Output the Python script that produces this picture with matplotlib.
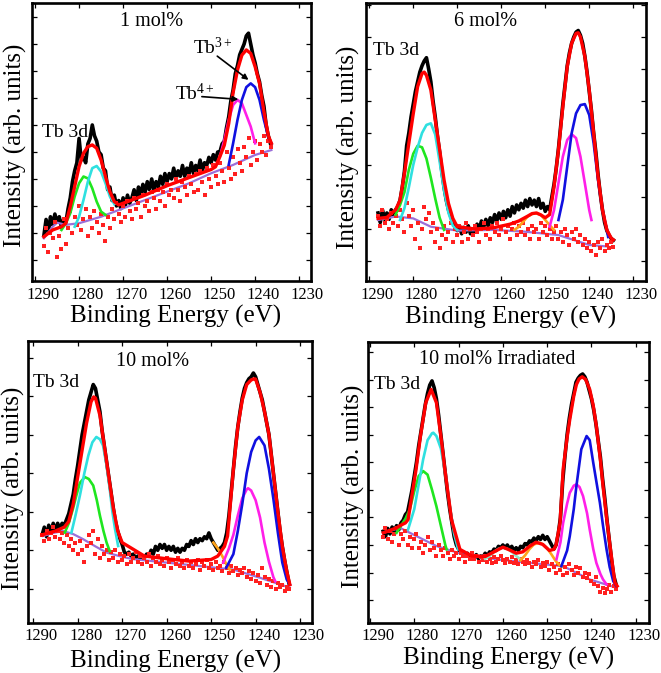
"""Tb 3d XPS spectra, four doping levels, fitted components (2x2 panels)."""
import numpy as np
import matplotlib
matplotlib.use('Agg')
import matplotlib.pyplot as plt
from matplotlib.transforms import ScaledTranslation

plt.rcParams['font.family'] = 'serif'
plt.rcParams['font.serif'] = ['Liberation Serif', 'DejaVu Serif']
plt.rcParams['mathtext.fontset'] = 'custom'
plt.rcParams['mathtext.rm'] = 'Liberation Serif'
plt.rcParams['mathtext.it'] = 'Liberation Serif:italic'

STEP = 0.5          # eV spacing of the raw spectrum / residual readings
XTICKS = [1290, 1280, 1270, 1260, 1250, 1240, 1230]

# ---------------- panel 1 : 1 mol% ----------------
P1_START = 1288.0
P1_RAW = [1.9, 2.5, 2.0, 2.6, 2.3, 2.7, 2.4, 2.6, 2.2, 2.5,
          2.4, 2.9, 3.3, 3.9, 4.3, 4.6, 5.5, 4.7, 4.8, 4.6,
          5.3, 5.5, 6.0, 5.6, 5.4, 5.0, 4.9, 4.4, 4.3, 3.6,
          3.7, 3.2, 3.4, 3.0, 3.2, 2.9, 3.3, 3.0, 3.4, 3.1,
          3.3, 3.6, 3.2, 3.7, 3.4, 3.8, 3.5, 3.9, 3.6, 4.0,
          3.6, 3.9, 3.7, 4.1, 3.8, 4.2, 3.9, 4.2, 4.0, 4.4,
          4.0, 4.3, 4.1, 4.5, 4.1, 4.4, 4.2, 4.6, 4.2, 4.5,
          4.3, 4.7, 4.3, 4.6, 4.5, 4.8, 4.6, 4.9, 4.7, 5.0,
          5.0, 5.3, 5.4, 5.9, 6.3, 6.9, 7.3, 7.9, 8.2, 8.6,
          8.8, 9.0, 9.3, 9.4, 9.0, 8.6, 8.3, 7.9, 7.6, 7.1,
          6.7, 6.0, 5.6, 5.3]
P1_RES = [1.5, 2.2, 1.3, 2.0, 1.8, 2.4, 1.1, 1.9, 1.4, 2.5,
          1.6, 2.2, 2.8, 2.0, 2.6, 2.3, 3.0, 2.1, 2.5, 2.9,
          1.9, 2.6, 2.2, 2.8, 2.4, 2.0, 2.7, 2.3, 1.7, 2.6,
          2.2, 2.9, 2.5, 3.1, 2.7, 2.4, 3.0, 2.6, 3.2, 2.8,
          2.5, 3.3, 2.9, 3.1, 2.6, 3.4, 3.0, 3.2, 2.8, 3.5,
          3.3, 2.9, 3.6, 3.2, 3.5, 3.0, 3.8, 3.4, 3.6, 3.3,
          4.0, 3.6, 3.2, 3.9, 3.7, 3.4, 4.1, 3.8, 3.5, 4.2,
          3.6, 4.3, 3.9, 3.4, 4.4, 4.0, 3.7, 4.5, 4.1, 3.8,
          4.6, 4.3, 3.9, 5.0, 4.4, 4.0, 4.8, 4.2, 5.1, 4.6,
          4.3, 5.2, 4.8, 5.5, 4.5, 5.0, 5.4, 4.7, 5.3, 5.0,
          5.6, 4.9, 5.4, 5.2]
P1_ENV_E = [1288, 1286, 1284, 1283, 1282, 1281, 1280, 1279, 1278, 1277, 1276, 1275,
            1274, 1273, 1272, 1271, 1265, 1260, 1255, 1250, 1249, 1248, 1247, 1246,
            1245, 1244, 1243, 1242, 1241, 1240, 1239, 1238, 1237, 1236.3]
P1_ENV = [1.86, 2.11, 2.23, 2.36, 2.98, 3.72, 4.46, 4.95, 5.20, 5.26, 5.14, 4.70,
          4.09, 3.53, 3.16, 3.04, 3.40, 3.75, 4.05, 4.35, 4.45, 4.83, 5.25, 6.05,
          7.20, 8.04, 8.59, 8.78, 8.65, 8.16, 7.54, 6.50, 5.60, 5.32]
P1_BG_E = [1288, 1286, 1285, 1283, 1280, 1275, 1270, 1265, 1260, 1255, 1250, 1245, 1240, 1236.3]
P1_BG = [1.80, 2.23, 2.38, 2.30, 2.36, 2.60, 2.91, 3.22, 3.53, 3.84, 4.21, 4.52, 4.89, 5.07]
P1_GREEN_E = [1284, 1283, 1282, 1281, 1280, 1279, 1278, 1277, 1276, 1275, 1274]
P1_GREEN = [2.11, 2.36, 2.73, 3.35, 3.84, 4.09, 4.02, 3.65, 3.16, 2.79, 2.67]
P1_CYAN_E = [1281, 1280, 1279, 1278, 1277, 1276, 1275, 1274, 1273, 1272]
P1_CYAN = [2.23, 2.60, 3.22, 3.90, 4.40, 4.48, 4.27, 3.84, 3.35, 3.07]
P1_MAG_E = [1248, 1247, 1246, 1245, 1244, 1243, 1242, 1241, 1240]
P1_MAG = [4.83, 5.44, 6.19, 6.74, 6.93, 6.80, 6.37, 5.94, 5.32]
P1_BLUE_E = [1246, 1245, 1244, 1243, 1242, 1241, 1240, 1239, 1238, 1237, 1236.3]
P1_BLUE = [4.52, 5.32, 6.19, 6.93, 7.40, 7.54, 7.40, 6.93, 6.19, 5.57, 5.32]

# ---------------- panel 2 : 6 mol% ----------------
P2_START = 1288.0
P2_RAW = [2.5, 2.2, 2.6, 2.3, 2.5, 2.3, 2.6, 2.4, 2.6, 2.7,
          2.9, 3.3, 3.8, 4.6, 5.0, 5.5, 5.9, 6.3, 6.6, 6.9,
          7.1, 7.25, 7.35, 7.0, 6.6, 6.0, 5.5, 4.9, 4.4, 3.8,
          3.3, 2.9, 2.6, 2.4, 2.2, 2.1, 1.95, 2.1, 1.85, 2.05,
          1.9, 2.1, 1.85, 2.0, 1.9, 2.15, 2.0, 2.25, 2.05, 2.3,
          2.1, 2.35, 2.2, 2.45, 2.25, 2.5, 2.3, 2.55, 2.35, 2.6,
          2.4, 2.7, 2.5, 2.75, 2.6, 2.8, 2.65, 2.9, 2.7, 2.95,
          2.75, 2.9, 2.7, 2.95, 2.65, 2.8, 2.55, 2.7, 2.6, 3.0,
          3.4, 3.9, 4.5, 5.2, 5.9, 6.5, 7.1, 7.5, 7.8, 8.0,
          8.15, 8.2, 8.05, 7.8, 7.4, 6.9, 6.3, 5.7, 5.0, 4.4,
          3.7, 3.1, 2.6, 2.2, 1.95, 1.8, 1.7, 1.65]
P2_RES = [2.4, 2.1, 2.6, 2.2, 2.3, 2.0, 2.5, 2.2, 2.4, 2.1,
          2.6, 2.3, 1.9, 2.8, 2.4, 2.1, 2.6, 1.7, 2.2, 1.4,
          2.0, 2.7, 2.3, 2.5, 1.9, 2.2, 1.6, 2.0, 1.4, 1.8,
          2.1, 1.7, 1.9, 2.2, 1.6, 2.0, 1.8, 2.1, 1.6, 1.9,
          2.2, 1.7, 2.0, 1.8, 2.1, 1.9, 1.6, 2.0, 2.2, 1.8,
          2.0, 1.7, 2.1, 1.9, 2.2, 1.8, 2.0, 2.3, 1.9, 2.1,
          1.7, 2.0, 2.2, 1.8, 2.1, 1.9, 2.2, 1.8, 2.0, 1.7,
          2.1, 1.9, 2.0, 1.7, 2.2, 1.9, 2.1, 1.8, 2.0, 1.7,
          1.9, 2.1, 1.7, 1.9, 1.6, 2.0, 1.8, 1.5, 1.9, 1.7,
          2.0, 1.6, 1.8, 1.5, 1.7, 1.4, 1.6, 1.3, 1.5, 1.2,
          1.6, 1.4, 1.7, 1.3, 1.5, 1.4, 1.6, 1.45]
P2_ENV_E = [1288, 1286, 1284, 1283, 1282, 1281, 1280, 1279, 1278, 1277.5, 1277, 1276,
            1275, 1274, 1273, 1272, 1271, 1270, 1266, 1262, 1258, 1256, 1254, 1253,
            1252, 1251, 1250, 1249, 1248, 1247, 1246, 1245, 1244, 1243, 1242.5, 1242,
            1241, 1240, 1239, 1238, 1237, 1236, 1235, 1234.5]
P2_ENV = [2.33, 2.36, 2.60, 2.90, 3.74, 4.68, 5.60, 6.45, 6.86, 6.90, 6.80, 6.34,
          5.41, 4.47, 3.53, 2.80, 2.33, 2.07, 2.00, 2.03, 2.15, 2.25, 2.40, 2.48,
          2.50, 2.44, 2.35, 2.45, 3.32, 4.47, 5.82, 7.07, 7.80, 8.11, 8.13, 8.00,
          7.39, 6.34, 4.99, 3.64, 2.60, 1.97, 1.71, 1.66]
P2_BG_E = [1288, 1284, 1280, 1276, 1270, 1262, 1255, 1247, 1240, 1235.7]
P2_BG = [2.28, 2.39, 2.33, 2.07, 1.95, 1.97, 1.92, 1.81, 1.50, 1.45]
P2_GREEN_E = [1284, 1283, 1282, 1281, 1280, 1279, 1278, 1277, 1276, 1275, 1274, 1273]
P2_GREEN = [2.45, 2.75, 3.15, 3.85, 4.35, 4.60, 4.55, 4.20, 3.60, 2.95, 2.35, 1.97]
P2_CYAN_E = [1283, 1282, 1281, 1280, 1279, 1278, 1277, 1276, 1275, 1274, 1273, 1272, 1271, 1270]
P2_CYAN = [2.28, 2.65, 3.30, 4.00, 4.55, 5.00, 5.25, 5.30, 4.95, 4.10, 3.20, 2.50, 2.10, 1.97]
P2_ORANGE_E = [1257, 1256, 1255, 1254, 1253, 1252, 1251, 1250, 1249, 1248]
P2_ORANGE = [1.97, 2.07, 2.23, 2.39, 2.47, 2.49, 2.44, 2.28, 2.12, 1.97]
P2_MAG_E = [1249, 1248, 1247, 1246, 1245, 1244, 1243, 1242, 1241, 1240, 1239.5]
P2_MAG = [2.07, 2.59, 3.43, 4.26, 4.78, 4.96, 4.84, 4.26, 3.43, 2.59, 2.28]
P2_BLUE_E = [1247, 1246, 1245, 1244, 1243, 1242, 1241, 1240, 1239, 1238, 1237, 1236, 1235.7]
P2_BLUE = [2.28, 2.91, 3.95, 4.99, 5.61, 5.87, 5.90, 5.56, 4.68, 3.53, 2.59, 1.97, 1.75]

# ---------------- panel 3 : 10 mol% ----------------
P3_START = 1288.0
P3_RAW = [2.4, 2.6, 2.35, 2.65, 2.45, 2.7, 2.5, 2.7, 2.55, 2.7,
          2.65, 2.8, 2.95, 3.2, 3.45, 3.85, 4.2, 4.6, 5.0, 5.3,
          5.6, 5.9, 6.1, 6.3, 6.2, 5.9, 5.6, 5.1, 4.7, 4.3,
          3.9, 3.5, 3.1, 2.75, 2.5, 2.3, 2.15, 1.95, 1.9, 1.95,
          1.85, 1.9, 1.8, 1.85, 1.8, 1.85, 1.8, 1.9, 1.85, 2.0,
          1.9, 2.1, 2.0, 2.15, 2.05, 2.15, 2.0, 2.1, 2.0, 2.1,
          1.95, 2.05, 1.95, 2.05, 2.0, 2.15, 2.1, 2.25, 2.15, 2.3,
          2.2, 2.3, 2.25, 2.35, 2.3, 2.45, 2.3, 2.2, 2.1, 2.0,
          2.05, 2.1, 2.2, 2.45, 2.9, 3.5, 4.1, 4.7, 5.2, 5.6,
          5.95, 6.2, 6.35, 6.45, 6.5, 6.6, 6.5, 6.3, 6.1, 5.9,
          5.6, 5.3, 5.0, 4.5, 4.0, 3.5, 3.0, 2.5, 2.1, 1.75,
          1.45, 1.15]
P3_RES = [2.4, 2.25, 2.5, 2.3, 2.45, 2.6, 2.35, 2.5, 2.3, 2.45,
          2.2, 2.4, 2.1, 2.3, 2.0, 2.2, 1.9, 2.25, 2.0, 1.7,
          2.1, 2.4, 2.2, 2.5, 1.9, 2.3, 1.8, 2.1, 1.9, 2.0,
          1.75, 1.95, 1.8, 2.0, 1.7, 1.9, 1.75, 1.85, 1.65, 1.9,
          1.7, 1.8, 1.95, 1.7, 1.85, 1.65, 1.8, 1.7, 1.9, 1.6,
          1.8, 1.7, 1.85, 1.65, 1.75, 1.6, 1.8, 1.7, 1.55, 1.75,
          1.65, 1.8, 1.6, 1.7, 1.55, 1.75, 1.6, 1.7, 1.55, 1.65,
          1.75, 1.5, 1.7, 1.6, 1.75, 1.55, 1.65, 1.5, 1.7, 1.55,
          1.6, 1.45, 1.7, 1.55, 1.4, 1.6, 1.45, 1.55, 1.35, 1.5,
          1.4, 1.55, 1.3, 1.45, 1.25, 1.4, 1.2, 1.35, 1.15, 1.55,
          1.3, 1.1, 1.25, 1.05, 1.2, 1.0, 1.15, 1.05, 1.1, 0.95,
          1.05, 1.0]
P3_ENV_E = [1288, 1285, 1283, 1282, 1281, 1280, 1279, 1278, 1277, 1276.4, 1276, 1275,
            1274, 1273, 1272, 1271, 1270, 1265, 1260, 1255, 1250, 1248.5, 1247, 1246.3,
            1245, 1244, 1243, 1242, 1241, 1240.3, 1240, 1239, 1238, 1237, 1236, 1235,
            1234, 1233, 1232.3]
P3_ENV = [2.40, 2.50, 2.60, 2.75, 3.20, 3.90, 4.60, 5.30, 5.85, 5.98, 5.95, 5.50,
          4.70, 3.90, 3.10, 2.50, 2.20, 1.85, 1.78, 1.72, 1.76, 1.85, 2.10, 2.37,
          4.10, 5.20, 5.90, 6.30, 6.42, 6.45, 6.44, 6.10, 5.60, 5.00, 4.00, 3.00,
          2.10, 1.45, 1.11]
P3_BG_E = [1287.8, 1285.5, 1283.3, 1281, 1278.8, 1276, 1273.5, 1270, 1267.5, 1260,
           1252.5, 1245, 1239.1, 1232.3]
P3_BG = [2.37, 2.45, 2.50, 2.42, 2.29, 2.10, 1.94, 1.83, 1.77, 1.68, 1.59, 1.50, 1.29, 1.03]
P3_GREEN_E = [1282.9, 1282, 1281, 1280.3, 1279.5, 1278.4, 1277.5, 1276.5, 1275.7, 1275,
              1274.2, 1273.5, 1272.8]
P3_GREEN = [2.46, 2.70, 3.10, 3.42, 3.75, 3.90, 3.85, 3.68, 3.30, 2.90, 2.50, 2.20, 1.98]
P3_CYAN_E = [1281.4, 1280.5, 1279.5, 1278.5, 1277.6, 1276.7, 1275.8, 1275, 1274.3, 1273.5,
             1272.8, 1272.2, 1271.6, 1270.9]
P3_CYAN = [2.46, 2.90, 3.42, 4.00, 4.46, 4.80, 4.94, 4.88, 4.72, 4.20, 3.60, 3.00, 2.55, 2.11]
P3_ORANGE_E = [1249.5, 1248.5, 1247.5, 1246.5, 1245.8]
P3_ORANGE = [2.20, 2.05, 1.85, 1.62, 1.50]
P3_MAG_E = [1247.3, 1246, 1245, 1244, 1243, 1242, 1241.7, 1241, 1240, 1239, 1238, 1237,
            1236, 1235.6]
P3_MAG = [1.68, 2.05, 2.40, 2.90, 3.35, 3.58, 3.61, 3.55, 3.30, 2.85, 2.20, 1.70, 1.30, 1.20]
P3_BLUE_E = [1246.6, 1245, 1244, 1243, 1242, 1241, 1240, 1239.2, 1238, 1237, 1236, 1235,
             1234, 1233, 1232.3]
P3_BLUE = [1.55, 1.90, 2.50, 3.20, 4.00, 4.55, 4.85, 4.94, 4.72, 4.11, 3.33, 2.46, 1.68,
           1.24, 1.11]

# ---------------- panel 4 : 10 mol% irradiated ----------------
P4_START = 1287.0
P4_RAW = [3.5, 3.3, 3.6, 3.4, 3.65, 3.5, 3.7, 3.55, 3.8, 3.9,
          4.1, 4.2, 4.6, 5.0, 5.5, 6.0, 6.6, 7.1, 7.6, 8.1,
          8.5, 8.8, 8.95, 8.7, 8.3, 7.7, 7.0, 6.3, 5.6, 4.9,
          4.3, 3.8, 3.3, 3.0, 2.85, 2.7, 2.75, 2.6, 2.7, 2.55,
          2.65, 2.55, 2.65, 2.5, 2.6, 2.55, 2.7, 2.6, 2.75, 2.7,
          2.85, 2.8, 2.95, 2.9, 3.0, 2.9, 3.0, 2.85, 2.95, 2.8,
          2.9, 2.8, 2.95, 2.9, 3.05, 3.0, 3.15, 3.1, 3.25, 3.15,
          3.3, 3.2, 3.35, 3.2, 3.3, 3.15, 3.0, 2.85, 3.0, 3.4,
          4.0, 5.3, 6.2, 7.0, 7.6, 8.1, 8.5, 8.9, 9.05, 9.15,
          9.2, 9.1, 8.9, 8.6, 8.3, 7.9, 7.4, 6.8, 6.2, 5.4,
          4.7, 3.9, 3.2, 2.5, 1.9, 1.6]
P4_RES = [3.3, 3.6, 3.2, 3.5, 3.1, 3.4, 3.6, 3.0, 3.4, 3.2,
          3.5, 3.0, 3.3, 2.9, 3.2, 3.4, 2.9, 3.1, 2.7, 3.0,
          3.3, 2.8, 3.1, 2.9, 2.6, 3.0, 2.8, 2.6, 2.9, 2.7,
          2.5, 2.8, 2.6, 2.7, 2.5, 2.7, 2.6, 2.4, 2.6, 2.5,
          2.7, 2.5, 2.6, 2.4, 2.55, 2.45, 2.6, 2.4, 2.5, 2.35,
          2.55, 2.4, 2.5, 2.6, 2.45, 2.35, 2.5, 2.4, 2.55, 2.35,
          2.45, 2.3, 2.5, 2.4, 2.3, 2.45, 2.35, 2.2, 2.4, 2.3,
          2.45, 2.2, 2.35, 2.25, 2.4, 2.1, 2.3, 2.2, 2.0, 2.3,
          2.1, 1.9, 2.2, 2.0, 2.3, 2.1, 1.9, 2.2, 2.0, 2.15,
          1.85, 2.0, 1.8, 1.95, 1.7, 1.6, 1.85, 1.5, 1.3, 1.45,
          1.25, 1.4, 1.55, 1.3, 1.5, 1.4]
P4_ENV_E = [1287, 1285, 1284, 1283, 1282, 1281.4, 1279.6, 1278.6, 1277.4, 1276.2, 1275,
            1274, 1273.1, 1271.6, 1269.7, 1267, 1264, 1262, 1260, 1258.5, 1257, 1255.5,
            1254, 1252.5, 1251, 1249.5, 1248.5, 1248, 1247.1, 1246.4, 1245.5, 1244.9,
            1244, 1243.4, 1242.8, 1242.1, 1241.3, 1240.4, 1239.6, 1238.9, 1238, 1237.4,
            1236.6, 1235.9, 1235.2, 1234.7, 1234.2]
P4_ENV = [3.44, 3.56, 3.62, 3.72, 3.80, 3.92, 5.74, 6.95, 8.16, 8.64, 8.16,
          6.95, 5.74, 3.92, 2.84, 2.60, 2.58, 2.75, 2.92, 2.82, 2.70, 2.75,
          2.95, 3.10, 3.02, 2.80, 2.84, 3.00, 3.80, 5.74, 6.90, 7.55,
          8.40, 8.82, 9.02, 9.10, 9.00, 8.64, 8.05, 7.31, 6.10, 5.14,
          4.00, 3.08, 2.20, 1.63, 1.51]
P4_BG_E = [1287, 1283.2, 1279.5, 1275, 1269, 1261.4, 1253.9, 1246.4, 1240.4, 1234.4]
P4_BG = [3.44, 3.62, 3.32, 2.96, 2.66, 2.48, 2.35, 2.23, 1.75, 1.45]
P4_GREEN_E = [1284, 1283, 1282, 1281, 1280, 1279, 1278, 1277, 1276, 1275, 1274, 1273, 1272.7]
P4_GREEN = [3.44, 3.70, 3.95, 4.30, 4.95, 5.50, 5.68, 5.55, 5.00, 4.40, 3.70, 3.00, 2.84]
P4_CYAN_E = [1281.4, 1280, 1279, 1278, 1277, 1276, 1275.7, 1275, 1274, 1273, 1272, 1271, 1270.1]
P4_CYAN = [3.56, 4.30, 5.20, 6.10, 6.80, 7.05, 7.07, 6.95, 6.50, 5.60, 4.40, 3.40, 2.84]
P4_TEAL_E = [1264, 1263, 1262, 1261, 1260, 1259, 1258, 1257, 1256]
P4_TEAL = [2.50, 2.60, 2.75, 2.86, 2.90, 2.86, 2.75, 2.60, 2.48]
P4_ORANGE_E = [1256, 1255, 1254, 1253, 1252, 1251.7, 1251, 1250, 1249, 1248, 1246.8]
P4_ORANGE = [2.45, 2.62, 2.85, 3.02, 3.07, 3.08, 3.03, 2.88, 2.65, 2.40, 2.20]
P4_MAG_E = [1247.9, 1247, 1246.4, 1245.5, 1244.9, 1244, 1243.4, 1242.7, 1241.9, 1241,
            1240.4, 1239.6, 1238.9, 1238, 1237.4, 1236.6]
P4_MAG = [2.48, 3.10, 3.80, 4.50, 4.89, 5.15, 5.20, 5.10, 4.77, 4.15, 3.56, 2.85, 2.35,
          1.95, 1.75, 1.57]
P4_BLUE_E = [1246.8, 1245.5, 1244.9, 1244, 1243.4, 1242.3, 1241.1, 1240.4, 1239.6, 1238.9,
             1238.1, 1237.4, 1236.6, 1235.9, 1235.1, 1234.4]
P4_BLUE = [2.23, 2.80, 3.32, 4.30, 5.14, 6.47, 6.95, 6.80, 5.98, 5.30, 4.53, 3.70, 2.84,
           2.20, 1.69, 1.51]

C_GREEN, C_CYAN, C_BLUE = '#1fe61f', '#2fe0e0', '#1010e0'
C_MAG, C_ORANGE, C_TEAL = '#ff1fe8', '#ffa31a', '#8fe8c8'
C_BG, C_RED = '#9b6fd9', '#ff0000'

fig = plt.figure(figsize=(6.61, 6.73), dpi=100)

PANELS = [
    dict(rect=[0.0484, 0.5825, 0.4221, 0.4131], xlim=(1290.7, 1227.3), ylim=(0.22, 10.52),
         yticks=range(1, 11), start=P1_START, raw=P1_RAW, res=P1_RES,
         env=(P1_ENV_E, P1_ENV), bg=(P1_BG_E, P1_BG),
         comps=[(P1_GREEN_E, P1_GREEN, C_GREEN), (P1_CYAN_E, P1_CYAN, C_CYAN),
                (P1_MAG_E, P1_MAG, C_MAG), (P1_BLUE_E, P1_BLUE, C_BLUE)],
         title='1 mol%', title_xy=(0.43, 0.917), tb=(1288.5, 5.57),
         xlab=(0.516, -0.129), ylab=(-0.061, 0.489)),
    dict(rect=[0.5533, 0.5825, 0.4240, 0.4126], xlim=(1290.8, 1227.1), ylim=(0.375, 9.05),
         yticks=range(1, 10), start=P2_START, raw=P2_RAW, res=P2_RES,
         env=(P2_ENV_E, P2_ENV), bg=(P2_BG_E, P2_BG),
         comps=[(P2_GREEN_E, P2_GREEN, C_GREEN), (P2_CYAN_E, P2_CYAN, C_CYAN),
                (P2_ORANGE_E, P2_ORANGE, C_ORANGE), (P2_MAG_E, P2_MAG, C_MAG),
                (P2_BLUE_E, P2_BLUE, C_BLUE)],
         title='6 mol%', title_xy=(0.426, 0.92), tb=(1289.1, 7.44),
         xlab=(0.518, -0.13), ylab=(-0.063, 0.483)),
    dict(rect=[0.0428, 0.0747, 0.4287, 0.4186], xlim=(1291.1, 1227.4), ylim=(0.12, 7.43),
         yticks=range(1, 8), start=P3_START, raw=P3_RAW, res=P3_RES,
         env=(P3_ENV_E, P3_ENV), bg=(P3_BG_E, P3_BG),
         comps=[(P3_GREEN_E, P3_GREEN, C_GREEN), (P3_CYAN_E, P3_CYAN, C_CYAN),
                (P3_ORANGE_E, P3_ORANGE, C_ORANGE), (P3_MAG_E, P3_MAG, C_MAG),
                (P3_BLUE_E, P3_BLUE, C_BLUE)],
         title='10 mol%', title_xy=(0.44, 0.911), tb=(1290.0, 6.24),
         xlab=(0.521, -0.136), ylab=(-0.054, 0.478)),
    dict(rect=[0.5567, 0.0747, 0.4256, 0.4171], xlim=(1290.45, 1226.95), ylim=(0.18, 10.36),
         yticks=range(1, 11), start=P4_START, raw=P4_RAW, res=P4_RES,
         env=(P4_ENV_E, P4_ENV), bg=(P4_BG_E, P4_BG),
         comps=[(P4_GREEN_E, P4_GREEN, C_GREEN), (P4_CYAN_E, P4_CYAN, C_CYAN),
                (P4_TEAL_E, P4_TEAL, C_TEAL), (P4_ORANGE_E, P4_ORANGE, C_ORANGE),
                (P4_MAG_E, P4_MAG, C_MAG), (P4_BLUE_E, P4_BLUE, C_BLUE)],
         title='10 mol% Irradiated', title_xy=(0.46, 0.92), tb=(1289.2, 8.64),
         xlab=(0.501, -0.126), ylab=(-0.053, 0.487)),
]

label_shift = ScaledTranslation(8 / 100, 0, fig.dpi_scale_trans)

axes = []
for p in PANELS:
    ax = fig.add_axes(p['rect'])
    raw_e = p['start'] - STEP * np.arange(len(p['raw']))
    res_e = p['start'] - STEP * np.arange(len(p['res']))

    ax.plot(raw_e, p['raw'], color='k', lw=2.6, zorder=2)
    ax.plot(*p['bg'], color=C_BG, lw=1.6, zorder=3)
    ax.plot(res_e, p['res'], ls='none', marker='s', ms=2.8, mew=0,
            color='#ff2020', zorder=4)
    for e, y, c in p['comps']:
        ax.plot(e, y, color=c, lw=1.9, zorder=5)
    ax.plot(*p['env'], color=C_RED, lw=2.4, zorder=6)

    ax.set_xlim(*p['xlim'])
    ax.set_ylim(*p['ylim'])
    ax.set_xticks(XTICKS)
    ax.set_yticks(list(p['yticks']))
    ax.tick_params(direction='in', length=3.5, width=0.9, top=True, right=True,
                   labelleft=False, labelsize=12, pad=4)
    for lab in ax.get_xticklabels():
        lab.set_transform(lab.get_transform() + label_shift)
    for s in ax.spines.values():
        s.set_linewidth(1.9)

    ax.text(*p['title_xy'], p['title'], transform=ax.transAxes, ha='center',
            va='baseline', fontsize=14.5)
    ax.text(*p['tb'], 'Tb 3d', ha='left', va='baseline', fontsize=14)
    ax.text(*p['xlab'], 'Binding Energy (eV)', transform=ax.transAxes,
            ha='center', va='center', fontsize=18)
    ax.text(*p['ylab'], 'Intensity (arb. units)', transform=ax.transAxes,
            ha='center', va='center', rotation=90, fontsize=18)
    axes.append(ax)

# oxidation-state labels, first panel only
ax = axes[0]
ax.annotate('', xy=(1241.5, 7.67), xytext=(1248.6, 8.55),
            arrowprops=dict(arrowstyle='-|>', color='k', lw=1.2, mutation_scale=8,
                            shrinkA=0, shrinkB=0), zorder=7)
ax.annotate('', xy=(1243.8, 6.95), xytext=(1252.1, 7.05),
            arrowprops=dict(arrowstyle='-|>', color='k', lw=1.2, mutation_scale=8,
                            shrinkA=0, shrinkB=0), zorder=7)
ax.text(1254.2, 8.62, r'Tb$^{3+}$', ha='left', va='baseline', fontsize=14, zorder=8)
ax.text(1258.2, 6.93, r'Tb$^{4+}$', ha='left', va='baseline', fontsize=14, zorder=8)

fig.savefig('out.png', dpi=100)
